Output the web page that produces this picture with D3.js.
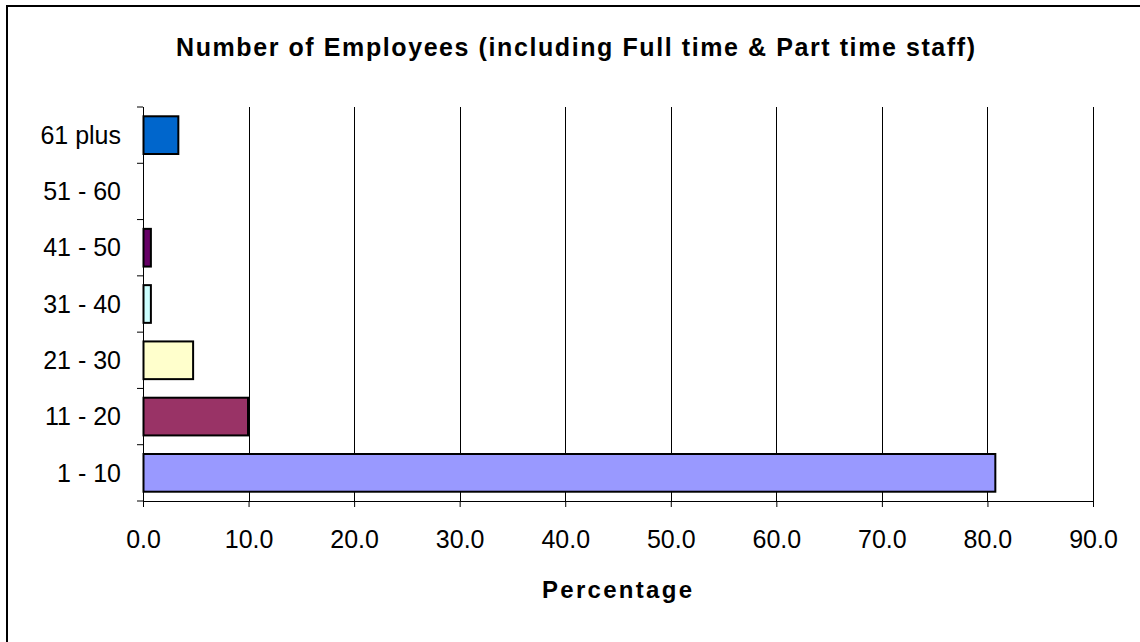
<!doctype html>
<meta charset=utf8>
<title>Number of Employees</title>
<style>
  body { margin: 0; background: white; }
  svg { display: block; font-family: Arial, 'Liberation Sans', sans-serif; }
  .axis text { font-size: 25px; fill: black; }
  .axis path, .axis line { stroke: black; }
</style>
<svg width=1140 height=642></svg>
<script src=https://d3js.org/d3.v7.min.js></script>
<script>
  // categories top to bottom as drawn
  var categories = ['61 plus', '51 - 60', '41 - 50', '31 - 40', '21 - 30', '11 - 20', '1 - 10'];
  var percentages = [3.3, 0, 0.7, 0.7, 4.7, 9.9, 80.7];
  var colours = ['#0066cc', '#ffffff', '#660066', '#ccffff', '#ffffcc', '#993366', '#9999ff'];
  var xTicks = [0, 10, 20, 30, 40, 50, 60, 70, 80, 90];

  var svg = d3.select('svg');
  var margin = { top: 107, right: 47, bottom: 141, left: 143 };
  var width = 1140 - margin.left - margin.right;
  var height = 642 - margin.top - margin.bottom;

  // outer chart frame (only left and top edges fall inside the picture)
  svg.append('rect')
    .attr('x', 7).attr('y', 6)
    .attr('width', 1200).attr('height', 700)
    .attr('fill', 'none').attr('stroke', 'black').attr('stroke-width', 2);

  var g = svg.append('g').attr('transform', 'translate(' + margin.left + ',' + margin.top + ')');

  var x = d3.scaleLinear().domain([0, 90]).range([0, width]);
  var y = d3.scaleBand().domain(categories).range([0, height]).paddingInner(0.33).paddingOuter(0.165);

  // vertical gridlines
  g.selectAll('.grid')
    .data(xTicks.slice(1))
    .enter().append('line')
    .attr('x1', function(d) { return Math.round(x(d)) + 0.5; })
    .attr('x2', function(d) { return Math.round(x(d)) + 0.5; })
    .attr('y1', 0).attr('y2', height)
    .attr('stroke', 'black');

  g.append('g')
    .attr('class', 'axis x')
    .attr('transform', 'translate(0,' + height + ')')
    .call(d3.axisBottom(x).tickValues(xTicks).tickFormat(d3.format('.1f')).tickSize(6).tickSizeOuter(0))
    .call(function(a) { a.selectAll('text').attr('y', 47).attr('dy', 0); });

  // category ticks sit between bands, so draw the left axis from the band edges
  var edges = d3.range(categories.length + 1).map(function(i) { return i * height / categories.length; });
  var yAxis = g.append('g').attr('class', 'axis y');
  yAxis.append('line').attr('x1', 0.5).attr('x2', 0.5).attr('y1', 0).attr('y2', height).attr('stroke', 'black');
  yAxis.selectAll('.tick')
    .data(edges)
    .enter().append('line')
    .attr('x1', -6).attr('x2', 0)
    .attr('y1', function(d) { return d; }).attr('y2', function(d) { return d; })
    .attr('stroke', 'black');
  yAxis.selectAll('text')
    .data(categories)
    .enter().append('text')
    .attr('x', -22)
    .attr('y', function(d) { return y(d) + y.bandwidth() / 2; })
    .attr('dy', '0.35em')
    .attr('text-anchor', 'end')
    .text(function(d) { return d; });

  g.selectAll('.bar')
    .data(categories)
    .enter().append('rect')
    .attr('class', 'bar')
    .filter(function(d, i) { return percentages[i] > 0; })
    .attr('x', x(0) + 0.5)
    .attr('y', function(d) { return y(d); })
    .attr('width', function(d) { return x(percentages[categories.indexOf(d)]) - x(0); })
    .attr('height', y.bandwidth())
    .attr('fill', function(d) { return colours[categories.indexOf(d)]; })
    .attr('stroke', 'black')
    .attr('stroke-width', 2);

  svg.append('text')
    .attr('x', 176).attr('y', 56)
    .attr('font-size', 25).attr('font-weight', 'bold')
    .attr('textLength', 799).attr('lengthAdjust', 'spacing')
    .text('Number of Employees (including Full time & Part time staff)');

  svg.append('text')
    .attr('x', 542).attr('y', 598)
    .attr('font-size', 24).attr('font-weight', 'bold')
    .attr('textLength', 150).attr('lengthAdjust', 'spacing')
    .text('Percentage');
</script>
